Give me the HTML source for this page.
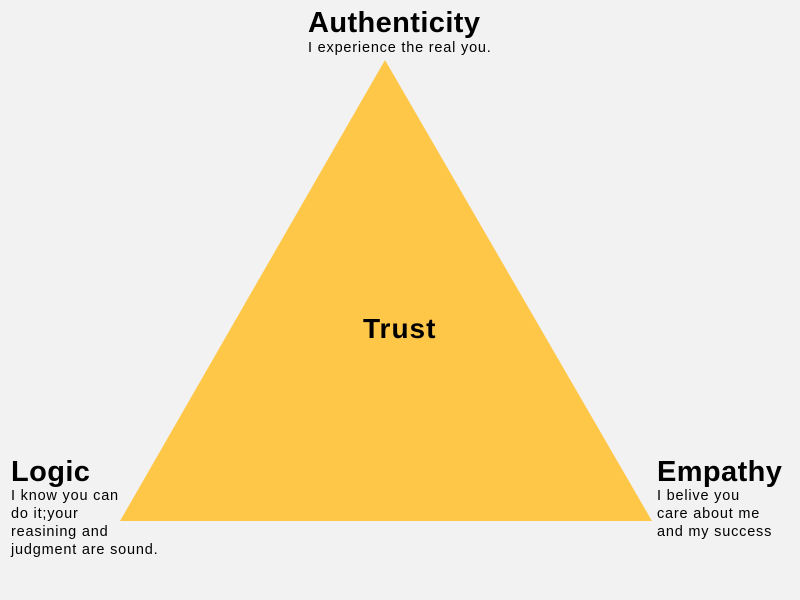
<!DOCTYPE html>
<html><head><style>
body{margin:0;width:800px;height:600px;background:#f2f2f2;position:relative;overflow:hidden;font-family:"Liberation Sans",sans-serif;color:#000}
.t{position:absolute;font-weight:bold;font-size:29px;line-height:30px;white-space:nowrap;letter-spacing:0.4px}
.d{position:absolute;font-size:14.5px;line-height:18px;white-space:nowrap;letter-spacing:0.8px}
</style></head><body>
<svg width="800" height="600" style="position:absolute;left:0;top:0">
<polygon points="385,60 120,521 652,521" fill="#ffc748"/>
</svg>
<div class="t" style="left:308px;top:8px">Authenticity</div>
<div class="d" style="left:308px;top:39px">I experience the real you.</div>
<div class="t" style="left:363px;top:314px;font-size:28px;letter-spacing:1px">Trust</div>
<div class="t" style="left:11px;top:457px">Logic</div>
<div class="d" style="left:11px;top:487px">I know you can<br>do it;your<br>reasining and<br>judgment are sound.</div>
<div class="t" style="left:657px;top:457px">Empathy</div>
<div class="d" style="left:657px;top:487px">I belive you<br>care about me<br>and my success</div>
</body></html>
